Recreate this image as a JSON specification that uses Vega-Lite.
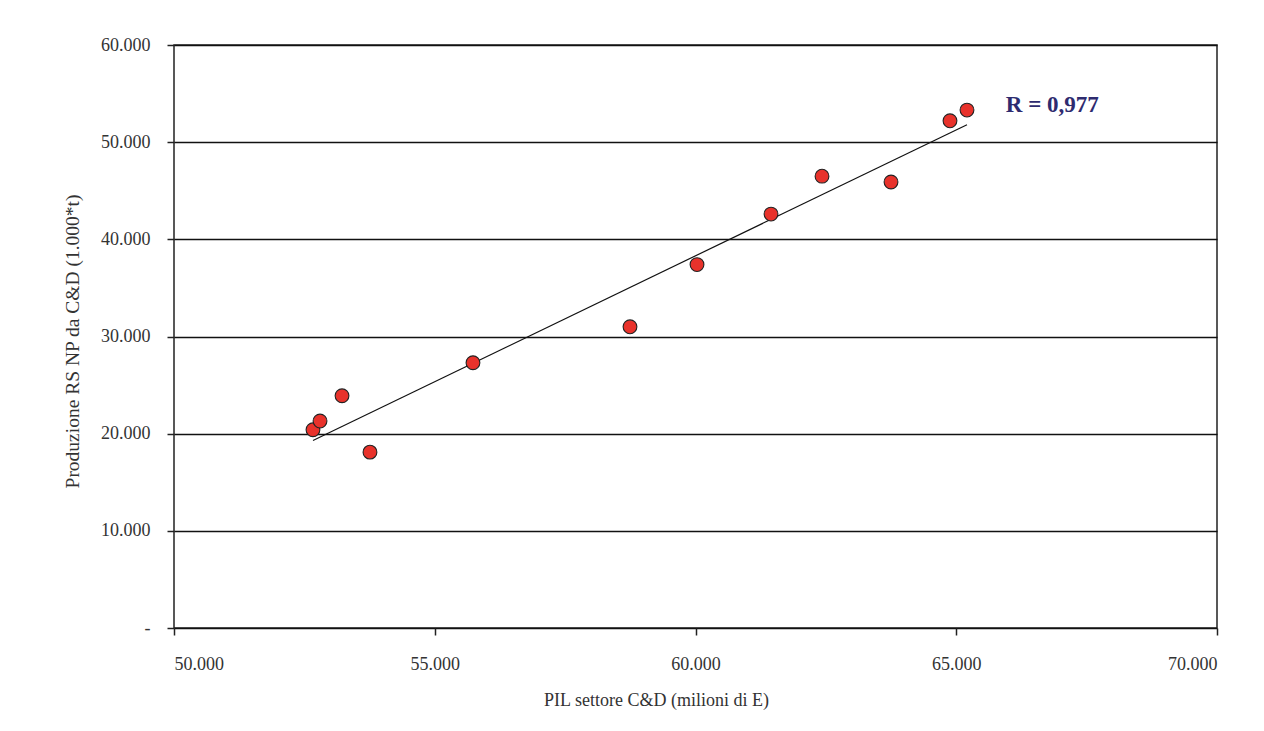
{
  "$schema": "https://vega.github.io/schema/vega-lite/v6.json",
  "width": 1043,
  "height": 583,
  "autosize": {"type": "none"},
  "padding": {"left": 174, "top": 45, "right": 47, "bottom": 103},
  "background": "white",
  "config": {
    "view": {"stroke": "#222", "strokeWidth": 1.5},
    "font": "Liberation Serif"
  },
  "datasets": {
    "pts": [
      {"pil": 52665, "prod": 20400},
      {"pil": 52800, "prod": 21300},
      {"pil": 53222, "prod": 23900},
      {"pil": 53758, "prod": 18100},
      {"pil": 55733, "prod": 27300},
      {"pil": 58744, "prod": 31000},
      {"pil": 60029, "prod": 37400},
      {"pil": 61448, "prod": 42600},
      {"pil": 62426, "prod": 46500},
      {"pil": 63749, "prod": 45900},
      {"pil": 64880, "prod": 52200},
      {"pil": 65206, "prod": 53300}
    ],
    "lbl": [{"pil": 65950, "prod": 53800, "t": "R = 0,977"}]
  },
  "layer": [
    {
      "data": {"name": "pts"},
      "transform": [{"regression": "prod", "on": "pil"}],
      "mark": {"type": "line", "color": "#111", "strokeWidth": 1.2},
      "encoding": {
        "x": {"field": "pil", "type": "quantitative"},
        "y": {"field": "prod", "type": "quantitative"}
      }
    },
    {
      "data": {"name": "pts"},
      "mark": {"type": "point", "filled": true, "fill": "#e8322b", "stroke": "#222", "strokeWidth": 1.1, "size": 190, "opacity": 1},
      "encoding": {
        "x": {
          "field": "pil", "type": "quantitative",
          "scale": {"domain": [50000, 70000], "nice": false, "zero": false},
          "axis": {
            "values": [50000, 55000, 60000, 65000, 70000],
            "labelExpr": "datum.value == 0 ? '-' : replace(format(datum.value, ',.0f'), ',', '.')",
            "grid": false,
            "domain": false,
            "tickColor": "#222", "tickSize": 7, "tickWidth": 1.5,
            "labelFont": "Liberation Serif", "labelFontSize": 18, "labelColor": "#333", "labelPadding": 20,
            "title": "PIL settore C&D (milioni di E)",
            "titleFont": "Liberation Serif", "titleFontSize": 18, "titleFontWeight": "normal", "titleColor": "#333",
            "titleX": 482, "titleY": 72, "titleBaseline": "middle", "titleAnchor": "middle"
          }
        },
        "y": {
          "field": "prod", "type": "quantitative",
          "scale": {"domain": [0, 60000], "nice": false},
          "axis": {
            "values": [0, 10000, 20000, 30000, 40000, 50000, 60000],
            "labelExpr": "datum.value == 0 ? '-' : replace(format(datum.value, ',.0f'), ',', '.')",
            "grid": true, "gridColor": "#111", "gridWidth": 1.5,
            "domain": false,
            "tickColor": "#222", "tickSize": 7, "tickWidth": 1.5, "tickOffset": 0,
            "labelFont": "Liberation Serif", "labelFontSize": 18, "labelColor": "#333", "labelPadding": 17,
            "title": "Produzione RS NP da C&D (1.000*t)",
            "titleFont": "Liberation Serif", "titleFontSize": 19.5, "titleFontWeight": "normal", "titleColor": "#333",
            "titleX": -102, "titleY": 296, "titleBaseline": "middle", "titleAnchor": "middle", "titleAngle": -90
          }
        }
      }
    },
    {
      "data": {"name": "lbl"},
      "mark": {"type": "text", "align": "left", "baseline": "middle", "font": "Liberation Serif", "fontSize": 23, "fontWeight": "bold", "color": "#2e2b6f"},
      "encoding": {
        "x": {"field": "pil", "type": "quantitative"},
        "y": {"field": "prod", "type": "quantitative"},
        "text": {"field": "t"}
      }
    }
  ]
}
